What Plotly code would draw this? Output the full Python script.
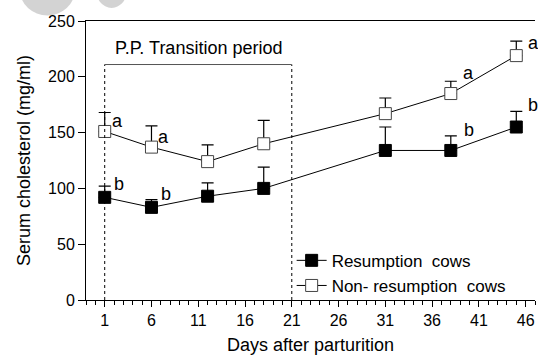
import plotly.graph_objects as go

days = [1, 6, 12, 18, 31, 38, 45]
resump_mean = [92, 83, 93, 100, 134, 134, 155]
resump_err = [10, 7, 12, 19, 21, 13, 14]
nonres_mean = [151, 137, 124, 140, 167, 185, 219]
nonres_err = [17, 19, 15, 21, 14, 11, 13]
x_ticks = [1, 6, 11, 16, 21, 26, 31, 36, 41, 46]
y_ticks = [0, 50, 100, 150, 200, 250]
# significance letters: day -> (letter, label offset dx, dy from error-bar top)
letters_res = {1: ("b", 1.5, 2), 6: ("b", 1.5, 5), 38: ("b", 1.9, 5), 45: ("b", 1.8, 6)}
letters_non = {1: ("a", 1.4, -8), 6: ("a", 1.3, -10), 38: ("a", 1.9, 7), 45: ("a", 1.8, -2)}
transition = [1, 21]
transition_top = 211

FONT = "Liberation Sans, Arial, sans-serif"

fig = go.Figure()
fig.add_trace(go.Scatter(
    x=days, y=resump_mean, mode="lines+markers", name="Resumption\u00a0 cows",
    line=dict(color="black", width=1),
    marker=dict(symbol="square", size=12, color="black", line=dict(color="black", width=1)),
    error_y=dict(type="data", array=resump_err, arrayminus=[0]*len(days), symmetric=False,
                 color="black", thickness=1.2, width=6),
))
fig.add_trace(go.Scatter(
    x=days, y=nonres_mean, mode="lines+markers", name="Non- resumption\u00a0 cows",
    line=dict(color="black", width=1),
    marker=dict(symbol="square", size=12, color="white", line=dict(color="#444", width=1)),
    error_y=dict(type="data", array=nonres_err, arrayminus=[0]*len(days), symmetric=False,
                 color="black", thickness=1.2, width=6),
))

anns = []
for i, d in enumerate(days):
    if d in letters_non:
        t, dx, dy = letters_non[d]
        anns.append(dict(x=d + dx, y=nonres_mean[i] + nonres_err[i] + dy, text=t,
                         showarrow=False, font=dict(size=18, color="black", family=FONT)))
    if d in letters_res:
        t, dx, dy = letters_res[d]
        anns.append(dict(x=d + dx, y=resump_mean[i] + resump_err[i] + dy, text=t,
                         showarrow=False, font=dict(size=18, color="black", family=FONT)))
anns.append(dict(x=(transition[0] + transition[1]) / 2, y=226, text="P.P. Transition period",
                 showarrow=False, font=dict(size=18, color="black", family=FONT)))

shapes = []
for xv in transition:
    shapes.append(dict(type="line", x0=xv, x1=xv, y0=0, y1=transition_top, xref="x", yref="y",
                       line=dict(color="black", width=1, dash="dot")))
shapes.append(dict(type="line", x0=transition[0], x1=transition[1], y0=transition_top, y1=transition_top,
                   xref="x", yref="y", line=dict(color="#555", width=1)))
# faint watermark blobs at top-left
shapes.append(dict(type="circle", xref="paper", yref="paper", x0=-0.147, x1=-0.025, y0=1.02, y1=1.2,
                   fillcolor="#d3d3d3", line=dict(width=0), layer="below"))
shapes.append(dict(type="circle", xref="paper", yref="paper", x0=0.02, x1=0.094, y0=1.047, y1=1.2,
                   fillcolor="#d3d3d3", line=dict(width=0), layer="below"))

fig.update_layout(
    width=538, height=356,
    margin=dict(l=86, r=3, t=21, b=56),
    paper_bgcolor="white", plot_bgcolor="white",
    font=dict(family=FONT, color="black"),
    showlegend=True,
    legend=dict(x=0.458, y=0.205, xanchor="left", yanchor="top", bgcolor="rgba(0,0,0,0)",
                font=dict(size=17, family=FONT), tracegroupgap=0, itemwidth=30),
    annotations=anns, shapes=shapes,
    xaxis=dict(range=[-1, 47], tickvals=x_ticks, ticks="outside", ticklen=6, tickcolor="black",
               showline=True, linecolor="black", linewidth=1, mirror=True, showgrid=False, zeroline=False,
               tickfont=dict(size=16, family=FONT),
               minor=dict(dtick=1, tick0=1, ticks="outside", ticklen=4, tickcolor="black", showgrid=False),
               title=dict(text="Days after parturition", font=dict(size=18, family=FONT), standoff=10)),
    yaxis=dict(range=[0, 250], tickvals=y_ticks, ticks="outside", ticklen=7, tickcolor="black",
               showline=True, linecolor="black", linewidth=1, showgrid=False, zeroline=False,
               tickfont=dict(size=16, family=FONT),
               title=dict(text="Serum cholesterol (mg/ml)", font=dict(size=18, family=FONT), standoff=12)),
)

fig.write_html("out.html", config={"displayModeBar": False},
               post_script="document.body.style.margin='0';")
